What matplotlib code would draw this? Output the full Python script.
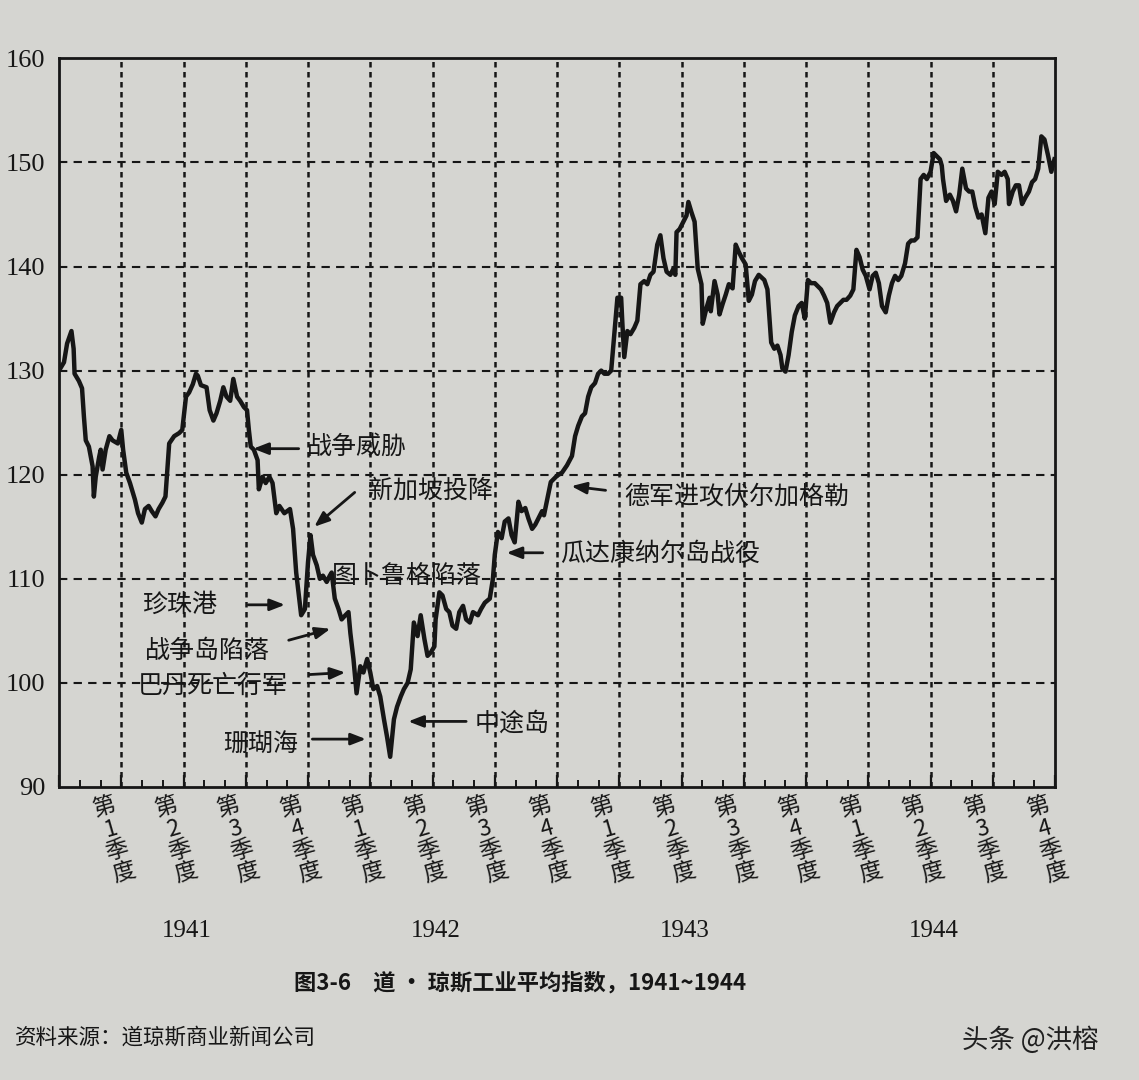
import matplotlib
matplotlib.use("Agg")
import matplotlib.pyplot as plt
import matplotlib.transforms as mtrans
from matplotlib.ticker import MultipleLocator

plt.rcParams['font.family'] = ['Noto Sans CJK SC', 'DejaVu Sans']

paper = '#d5d5d1'
ink = '#161616'

# x = quarters since start of 1941, y = Dow Jones Industrial Average
qtr = [0.03, 0.08, 0.13, 0.20, 0.235, 0.25, 0.32, 0.37, 0.40, 0.43, 0.48, 0.54, 0.56, 0.59,
       0.645, 0.67, 0.70, 0.75, 0.81, 0.86, 0.945, 1.00, 1.03, 1.08, 1.14, 1.22, 1.27, 1.33,
       1.38, 1.44, 1.49, 1.55, 1.60, 1.66, 1.71, 1.77, 1.85, 1.93, 1.98, 2.04, 2.09, 2.15,
       2.20, 2.23, 2.28, 2.37, 2.42, 2.48, 2.53, 2.59, 2.64, 2.69, 2.75, 2.80, 2.86, 2.91,
       2.97, 3.02, 3.05, 3.08, 3.13, 3.19, 3.21, 3.27, 3.32, 3.38, 3.43, 3.49, 3.54, 3.62,
       3.71, 3.76,
       3.81, 3.89, 3.95, 4.00, 4.04, 4.08, 4.14, 4.19, 4.24, 4.30, 4.35, 4.38, 4.43, 4.49,
       4.54, 4.60, 4.65, 4.68, 4.73, 4.78, 4.84, 4.89, 4.95, 5.00, 5.05, 5.11, 5.16, 5.22,
       5.27, 5.32, 5.38, 5.43, 5.49, 5.54, 5.60, 5.65, 5.70, 5.76, 5.81, 5.87, 5.92, 5.97,
       6.03, 6.05, 6.11, 6.16, 6.22, 6.27, 6.32, 6.38, 6.43, 6.49, 6.54, 6.60, 6.65, 6.73,
       6.78, 6.84, 6.92, 6.97, 7.00, 7.05, 7.11, 7.16, 7.22, 7.27, 7.32, 7.38, 7.43, 7.49,
       7.54, 7.60, 7.65, 7.70, 7.76,
       7.79, 7.90, 8.00, 8.08, 8.16, 8.24, 8.29, 8.34, 8.40, 8.45, 8.50, 8.55, 8.61, 8.66,
       8.71, 8.76, 8.82, 8.87, 8.92, 8.97, 9.03, 9.05, 9.08, 9.13, 9.18, 9.24, 9.29, 9.34,
       9.40, 9.45, 9.50, 9.55, 9.61, 9.66, 9.71, 9.76, 9.82, 9.87, 9.90, 9.92, 9.97, 10.03,
       10.08, 10.11, 10.16, 10.21, 10.26, 10.32, 10.34, 10.40, 10.45, 10.47, 10.53, 10.58,
       10.61, 10.66, 10.71, 10.76, 10.82, 10.87, 10.92, 10.97, 11.03, 11.08, 11.13, 11.18,
       11.24,
       11.33, 11.38, 11.44, 11.49, 11.54, 11.59, 11.62, 11.67, 11.72, 11.77, 11.82, 11.88,
       11.93, 11.98, 12.03, 12.08, 12.14, 12.19, 12.24, 12.29, 12.34, 12.39, 12.45, 12.50,
       12.55, 12.60, 12.65, 12.71, 12.76, 12.81, 12.86, 12.91, 12.96, 13.02, 13.07, 13.12,
       13.17, 13.22, 13.28, 13.33, 13.38, 13.43, 13.48, 13.53, 13.59, 13.64, 13.69, 13.74,
       13.79,
       13.84, 13.89, 13.94, 14.00, 14.05, 14.10, 14.15, 14.18, 14.20, 14.25, 14.31, 14.36,
       14.41, 14.46, 14.51, 14.57, 14.62, 14.67, 14.72, 14.77, 14.82, 14.88, 14.93, 14.98,
       15.03, 15.08, 15.14, 15.19, 15.24, 15.26, 15.32, 15.37, 15.42, 15.47, 15.52, 15.58,
       15.63, 15.68, 15.73, 15.78, 15.83, 15.89, 15.94, 15.99]
dji = [130.3, 130.8, 132.6, 133.8, 132.1, 129.7, 129.0, 128.3, 125.6, 123.3, 122.7, 120.8, 117.9, 119.8,
       121.7, 122.4, 120.5, 122.4, 123.7, 123.3, 123.0, 124.3, 122.4, 120.2, 119.2, 117.6, 116.3, 115.4,
       116.7, 117.0, 116.5, 116.0, 116.7, 117.3, 117.9, 123.0, 123.7, 124.0, 124.3, 127.5, 127.9, 128.7,
       129.7, 129.5, 128.6, 128.4, 126.2, 125.2, 125.9, 127.1, 128.4, 127.5, 127.1, 129.2, 127.5, 127.1,
       126.5, 126.2, 124.3, 122.7, 122.4, 121.4, 118.6, 119.8, 119.2, 119.8, 119.2, 116.3, 117.0, 116.3,
       116.7, 114.8,
       110.6, 106.5, 107.1, 111.6, 114.2, 112.3, 111.3, 110.0, 110.3, 109.7, 110.3, 110.6, 108.1, 107.1,
       106.1, 106.5, 106.8, 104.8, 102.3, 99.0, 101.6, 101.0, 102.3, 101.0, 99.4, 99.7, 98.7, 96.5,
       94.8, 92.9, 96.5, 97.7, 98.7, 99.4, 100.0, 101.3, 105.8, 104.5, 106.5, 104.2, 102.6, 102.9,
       103.5, 106.1, 108.7, 108.4, 107.1, 106.8, 105.5, 105.2, 106.8, 107.4, 106.1, 105.8, 106.8, 106.5,
       107.1, 107.7, 108.1, 110.0, 112.3, 114.5, 113.9, 115.5, 115.8, 114.2, 113.5, 117.4, 116.5, 116.8,
       115.8, 114.8, 115.2, 115.8, 116.5,
       116.1, 119.3, 119.9, 120.2, 120.9, 121.8, 123.7, 124.7, 125.6, 125.9, 127.5, 128.4, 128.8, 129.7,
       130.0, 129.7, 129.7, 130.0, 133.5, 137.0, 137.0, 134.5, 131.3, 133.8, 133.5, 134.1, 134.8, 138.3,
       138.6, 138.3, 139.2, 139.5, 142.1, 143.0, 140.8, 139.5, 139.2, 139.8, 139.2, 143.3, 143.6, 144.3,
       144.9, 146.2, 145.2, 144.3, 139.8, 138.3, 134.5, 136.0, 137.0, 135.7, 138.6, 137.3,
       135.4, 136.4, 137.3, 138.3, 137.9, 142.1, 141.4, 140.8, 140.2, 136.7, 137.3, 138.6,
       139.2,
       138.7, 137.8, 132.7, 132.1, 132.4, 131.5, 130.2, 129.9, 131.5, 133.7, 135.3, 136.2,
       136.5, 135.0, 138.7, 138.4, 138.4, 138.1, 137.8, 137.2, 136.5, 134.6, 135.6, 136.2,
       136.5, 136.8, 136.8, 137.2, 137.8, 141.6, 140.9, 139.7, 139.1, 137.8, 139.1, 139.4,
       138.4, 136.2, 135.6, 137.2, 138.4, 139.1, 138.7, 139.1, 140.3, 142.2, 142.5, 142.5,
       142.8,
       148.4, 148.8, 148.4, 149.1, 150.9, 150.6, 150.3, 149.7, 148.4, 146.3, 146.9, 146.3,
       145.3, 146.9, 149.4, 147.5, 147.2, 147.2, 145.7, 144.7, 145.0, 143.2, 146.6, 147.2,
       146.0, 149.1, 148.8, 149.1, 148.4, 146.0, 147.2, 147.8, 147.8, 146.0, 146.6, 147.2,
       148.1, 148.4, 149.4, 152.5, 152.2, 150.6, 149.1, 150.3]

y_ticks = [90, 100, 110, 120, 130, 140, 150, 160]
quarter_nums = ['1', '2', '3', '4'] * 4
years = ['1941', '1942', '1943', '1944']

# event labels: text, left edge (quarter), level
event_text = ['战争威胁', '新加坡投降', '图卜鲁格陷落', '珍珠港', '战争岛陷落',
              '巴丹死亡行军', '珊瑚海', '中途岛', '瓜达康纳尔岛战役', '德军进攻伏尔加格勒']
event_q = [3.98, 4.96, 4.39, 1.35, 1.38, 1.27, 2.63, 6.68, 8.05, 9.08]
event_v = [122.7, 118.5, 110.3, 107.5, 103.1, 99.7, 94.1, 96.1, 112.4, 117.9]
# arrows: tail -> head
arrow_tail = [(3.85, 122.5), (4.75, 118.3), (3.04, 107.5), (3.69, 104.1), (4.02, 100.8),
              (4.07, 94.6), (6.54, 96.3), (7.77, 112.5), (8.78, 118.5)]
arrow_head = [(3.12, 122.5), (4.10, 115.0), (3.63, 107.5), (4.36, 105.2), (4.60, 101.0),
              (4.93, 94.6), (5.61, 96.3), (7.19, 112.5), (8.23, 118.9)]

fig = plt.figure(figsize=(11.39, 10.8), dpi=100, facecolor=paper)
ax = fig.add_axes([0.0518, 0.2713, 0.8745, 0.6747])
ax.set_facecolor(paper)

for v in y_ticks[1:-1]:
    ax.axhline(v, color=ink, lw=1.5, ls=(0, (4, 3)), zorder=1)
for q in range(1, 16):
    ax.axvline(q, color=ink, lw=1.8, ls=(0, (2.2, 1.8)), zorder=1)

ax.plot(qtr, dji, color=ink, lw=3.2, zorder=3)

ax.set_xlim(0, 16)
ax.set_ylim(90, 160)
ax.set_yticks(y_ticks)
ax.set_xticks(range(17))
ax.xaxis.set_minor_locator(MultipleLocator(1 / 3))
ax.tick_params(axis='x', which='major', direction='in', length=9, width=1.6,
               color=ink, labelbottom=False)
ax.tick_params(axis='x', which='minor', direction='in', length=5, width=1.4, color=ink)
ax.tick_params(axis='y', length=0, pad=10, labelsize=19, labelcolor=ink)
for lbl in ax.get_yticklabels():
    lbl.set_fontfamily('Liberation Serif')
for s in ax.spines.values():
    s.set_linewidth(2.0)
    s.set_color(ink)

trans = mtrans.blended_transform_factory(ax.transData, ax.transAxes)
for i, n in enumerate(quarter_nums):
    ax.text(i + 0.68, -0.012, '第\n' + n + '\n季\n度', transform=trans, rotation=16,
            rotation_mode='anchor', ha='center', va='top', fontsize=16.5,
            linespacing=1.0, color=ink)
for k, yr in enumerate(years):
    ax.text(4 * k + 2.05, -0.198, yr, transform=trans, ha='center', va='center',
            fontsize=18, family='Liberation Serif', color=ink)

for t, q, v in zip(event_text, event_q, event_v):
    ax.text(q, v, t, ha='left', va='center', fontsize=18, color=ink, zorder=4)
for (tq, tv), (hq, hv) in zip(arrow_tail, arrow_head):
    ax.annotate('', xy=(hq, hv), xytext=(tq, tv),
                arrowprops=dict(arrowstyle='-|>,head_length=0.9,head_width=0.35',
                                lw=2.0, color=ink, shrinkA=0, shrinkB=0), zorder=4)

fig.text(0.4565, 0.0898, '图3-6　道 · 琼斯工业平均指数，1941~1944', ha='center',
         va='center', fontsize=16, fontweight='bold', color=ink)
fig.text(0.013, 0.039, '资料来源：道琼斯商业新闻公司', ha='left', va='center',
         fontsize=15.5, color=ink)
fig.text(0.845, 0.037, '头条 @洪榕', ha='left', va='center', fontsize=19, color='#202020')

fig.savefig('out.png', dpi=100, facecolor=paper)
